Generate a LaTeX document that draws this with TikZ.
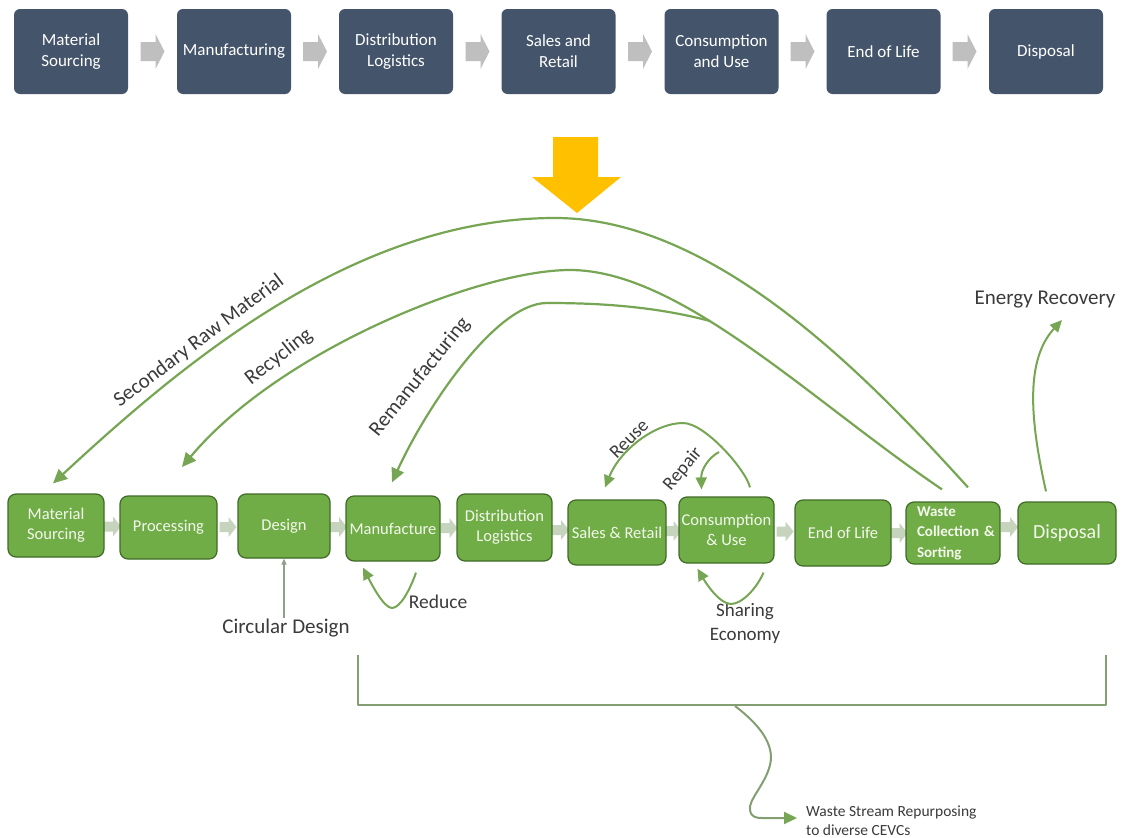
\documentclass[tikz,border=0pt]{standalone}
\usepackage{fontspec}
\setmainfont{Carlito}
\usetikzlibrary{arrows.meta,calc}
\definecolor{topblue}{HTML}{44546A}
\definecolor{grayarr}{HTML}{BFBFBF}
\definecolor{gold}{HTML}{FFC000}
\definecolor{boxgreen}{HTML}{70AD47}
\definecolor{boxborder}{HTML}{3F6B27}
\definecolor{gtext}{HTML}{F4F8EC}
\definecolor{arcgreen}{HTML}{76A553}
\definecolor{smallarr}{HTML}{C6D4BD}
\definecolor{labelgray}{HTML}{3B3B3B}
\definecolor{bracketc}{HTML}{839F72}
\definecolor{thinc}{HTML}{8FA08A}
\newcommand\topchev[1]{\fill[grayarr] (#1-12,42) -- (#1+3,42) -- (#1+3,34) -- (#1+12,51.5) -- (#1+3,69) -- (#1+3,61) -- (#1-12,61) -- cycle;}
\newcommand\botchev[2]{\fill[smallarr] (#1-8,#2-5) -- (#1+1,#2-5) -- (#1+1,#2-10) -- (#1+9,#2) -- (#1+1,#2+10) -- (#1+1,#2+5) -- (#1-8,#2+5) -- cycle;}
\tikzset{
  topbox/.style={fill=topblue, rounded corners=6pt, minimum width=114pt, minimum height=85pt,
    text=white, align=center, font=\fontsize{17}{21}\selectfont, inner sep=0pt},
  gbox/.style={fill=boxgreen, draw=boxborder, line width=1.2pt, rounded corners=8pt,
    text=gtext, align=center, font=\fontsize{16.5}{20}\selectfont, inner sep=0pt},
  lbl/.style={text=labelgray, font=\fontsize{20}{24}\selectfont, inner sep=1pt},
  flow/.style={draw=arcgreen, line width=2.2pt, -{Triangle[length=14pt,width=13pt]}, color=arcgreen},
  smallflow/.style={draw=arcgreen, line width=2pt, -{Triangle[length=12pt,width=11pt]}, color=arcgreen},
  thinarrow/.style={draw=thinc, line width=1.2pt, -{Triangle[length=6pt,width=5pt]}},
  bracket/.style={draw=bracketc, line width=2pt, line join=round},
}
\begin{document}
\begin{tikzpicture}[x=1pt,y=-1pt]
\useasboundingbox[fill=white] (0,0) rectangle (1122,838);
% top row
\topchev{152.5}\topchev{315}\topchev{477.5}\topchev{640}\topchev{802.5}\topchev{964.5}
\node[topbox] (t1) at (71,51.5) {Material\\Sourcing};
\node[topbox] (t2) at (234,51.5) {Manufacturing};
\node[topbox] (t3) at (396,51.5) {Distribution\\Logistics};
\node[topbox] (t4) at (558.5,51.5) {Sales and\\Retail};
\node[topbox] (t5) at (721.5,51.5) {Consumption\\and Use};
\node[topbox] (t6) at (883.5,51.5) {End of Life};
\node[topbox] (t7) at (1046,51.5) {Disposal};
% yellow arrow
\fill[gold] (553,137) -- (598,137) -- (598,177) -- (621,177) -- (577,213) -- (532,177) -- (553,177) -- cycle;
% bottom chevrons
\botchev{112}{526.5}\botchev{227.5}{527}\botchev{338}{527}\botchev{448.5}{528}\botchev{560}{530}
\botchev{672.5}{531}\botchev{784.5}{531.5}\botchev{898.5}{533}\botchev{1009}{527}
% bottom boxes
\node[gbox, minimum width=96pt, minimum height=63pt] (ms) at (56,525.5) {Material\\Sourcing};
\node[gbox, minimum width=97pt, minimum height=63pt] (pr) at (168.5,527.5) {Processing};
\node[gbox, minimum width=92pt, minimum height=64pt] (de) at (284,526) {Design};
\node[gbox, minimum width=94pt, minimum height=65pt] (ma) at (393,528.5) {Manufacture};
\node[gbox, minimum width=95pt, minimum height=67pt] (dl) at (504.5,527.5) {Distribution\\Logistics};
\node[gbox, minimum width=98pt, minimum height=65pt] (sr) at (617,532.5) {Sales \& Retail};
\node[gbox, minimum width=95pt, minimum height=66pt] (cu) at (726.5,530) {Consumption\\\& Use};
\node[gbox, minimum width=96pt, minimum height=66pt] (el) at (843,533) {End of Life};
\node[gbox, minimum width=94pt, minimum height=62pt, align=left, text width=72pt,
  font=\bfseries\fontsize{15}{20.5}\selectfont] (ws) at (953,533) {Waste\\Collection~\&\\Sorting};
\node[gbox, minimum width=98pt, minimum height=62pt, font=\fontsize{20}{24}\selectfont] (di) at (1067,533) {Disposal};
% labels
\node[lbl, rotate=37, font=\fontsize{21}{25}\selectfont] (lsrm) at (199,341) {Secondary Raw Material};
\node[lbl, rotate=38, font=\fontsize{21}{25}\selectfont] (lrec) at (279,357) {Recycling};
\node[lbl, rotate=51, font=\fontsize{21}{25}\selectfont] (lrem) at (420,377) {Remanufacturing};
\node[lbl, rotate=45, font=\fontsize{19}{22}\selectfont] (lreu) at (629,439) {Reuse};
\node[lbl, rotate=50, font=\fontsize{19}{22}\selectfont] (lrep) at (683,469) {Repair};
\node[lbl, font=\fontsize{19.5}{23}\selectfont] (lred) at (438,602) {Reduce};
\node[lbl, align=center, font=\fontsize{19}{24}\selectfont] (lse) at (745,623) {Sharing\\Economy};
\node[lbl, font=\fontsize{21}{25}\selectfont] (cd) at (286,628) {Circular Design};
\node[lbl, font=\fontsize{21}{25}\selectfont] (er) at (1045,300) {Energy Recovery};
\node[lbl, align=left, anchor=west, font=\fontsize{15.5}{19}\selectfont] (wsr) at (805,821) {Waste Stream Repurposing\\to diverse CEVCs};
% coordinates
\coordinate (jn) at (710,321);
\coordinate (ert) at (1062,320);
\coordinate (rect) at (182,467);
% big arcs
\draw[flow] ($(ws.north)+(15,-14)$) .. controls (868,377) and (715,218) .. (555,218)
   .. controls (355,218) and (184,362) .. ($(ms.north)+(-3,-10)$);
\draw[flow] ($(ws.north)+(-11,-12)$) .. controls (810,400) and (680,270) .. (570,270)
   .. controls (480,270) and (280,350) .. (rect);
\draw[flow] (jn) .. controls (650,305) and (590,303) .. (547,303)
   .. controls (495,303) and (425,410) .. ($(ma.north)+(-1,-13)$);
% reuse / repair
\draw[smallflow] ($(cu.north)+(23.5,-9)$) .. controls (746,470) and (705,423) .. (683,423)
   .. controls (655,423) and (620,450) .. ($(sr.north)+(-12,-12)$);
\draw[smallflow] (719,452) .. controls (708,458) and (701,470) .. ($(cu.north)+(-25,-7)$);
% reduce / sharing loops
\draw[smallflow] ($(ma.south)+(23,11)$) .. controls (410,590) and (400,608) .. (392,608)
   .. controls (384,608) and (372,585) .. ($(ma.south)+(-30,6)$);
\draw[smallflow] ($(cu.south)+(37,9)$) .. controls (757,588) and (742,604) .. (731,604)
   .. controls (720,604) and (707,585) .. ($(cu.south)+(-29,5)$);
% energy recovery
\draw[smallflow] ($(di.north)+(-21,-10)$) .. controls (1030,420) and (1025,360) .. (ert);
% circular design
\draw[thinarrow] (de.south |- cd.north) -- (de.south);
% bracket
\coordinate (b1) at (358,655); \coordinate (b2) at (358,705);
\coordinate (b3) at (1106,705); \coordinate (b4) at (1106,655);
\coordinate (bm) at (735,706);
\draw[bracket] (b1) -- (b2) -- (b3) -- (b4);
\draw[bracket, -{Triangle[length=13pt,width=12pt,color=arcgreen]}] (bm) .. controls (760,725) and (775,745) .. (770,765)
   .. controls (765,785) and (748,800) .. (750,810) .. controls (751,817) and (756,818) .. (762,818)
   -- ($(wsr.west)+(-8,-3)$);
\end{tikzpicture}
\end{document}
